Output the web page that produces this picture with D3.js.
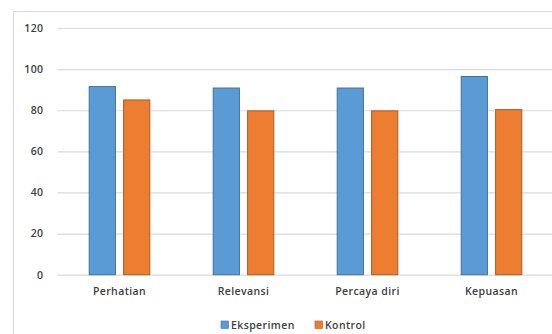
<!DOCTYPE html>
<html>
<head>
<meta charset="utf-8">
<script src="https://cdn.jsdelivr.net/npm/d3@7"></script>
<style>
  html, body { margin: 0; padding: 0; background: #fff; }
  svg { display: block; }
  text { font-family: "Open Sans", "DejaVu Sans", sans-serif; fill: #404040; }
</style>
</head>
<body>
<svg id="chart" width="552" height="334"></svg>
<script>
// Categories and series values
const categories = ["Perhatian", "Relevansi", "Percaya diri", "Kepuasan"];
const eksperimen = [91.5, 90.8, 90.8, 96.4];
const kontrol = [85.0, 79.7, 79.7, 80.3];
const seriesNames = ["Eksperimen", "Kontrol"];
const yTicks = [0, 20, 40, 60, 80, 100, 120];

const colors = { Eksperimen: "#5B9BD5", Kontrol: "#ED7D31" };
const strokes = { Eksperimen: "#41719C", Kontrol: "#AE5A21" };

const svg = d3.select("#chart");

// Outer chart frame (top and left edges visible)
svg.append("rect")
  .attr("x", 13.5).attr("y", 11.5)
  .attr("width", 600).attr("height", 400)
  .attr("fill", "none").attr("stroke", "#D9D9D9");

const plot = { left: 57.5, right: 553.5, top: 28, bottom: 274.7 };

const x = d3.scaleBand().domain(categories).range([plot.left, plot.right]).paddingInner(0).paddingOuter(0);
const y = d3.scaleLinear().domain([0, 120]).range([plot.bottom, plot.top]);

// Gridlines and value labels
const yAxis = d3.axisLeft(y).tickValues(yTicks).tickSize(-(plot.right - plot.left)).tickPadding(14);
const gy = svg.append("g").attr("transform", `translate(${plot.left},0)`).call(yAxis);
gy.select(".domain").remove();
gy.selectAll(".tick line").attr("stroke", "#D9D9D9").attr("stroke-width", 1.2);
gy.selectAll(".tick text")
  .style("font-size", "10.5px").style("font-weight", "600")
  .attr("fill", "#404040").attr("letter-spacing", "0.4px");

// Category axis labels
const gx = svg.append("g").attr("transform", `translate(0,${plot.bottom})`)
  .call(d3.axisBottom(x).tickSize(0).tickPadding(13));
gx.select(".domain").remove();
gx.selectAll(".tick text")
  .style("font-size", "10.5px").style("font-weight", "600")
  .attr("fill", "#404040").attr("letter-spacing", "0.4px");

// Bars
const data = categories.map((c, i) => ({ cat: c, values: [
  { key: "Eksperimen", v: eksperimen[i] },
  { key: "Kontrol", v: kontrol[i] }
]}));

const barW = 27.2, gap = 7.2;
const groupW = barW * 2 + gap;
const xs = d3.scaleOrdinal().domain(seriesNames).range([0, barW + gap]);

const groups = svg.append("g").selectAll("g").data(data).join("g")
  .attr("transform", d => `translate(${x(d.cat) + (x.bandwidth() - groupW) / 2},0)`);

groups.selectAll("rect").data(d => d.values).join("rect")
  .attr("x", d => xs(d.key) + 0.5)
  .attr("y", d => y(d.v))
  .attr("width", barW - 1)
  .attr("height", d => y(0) - y(d.v))
  .attr("fill", d => colors[d.key])
  .attr("stroke", d => strokes[d.key])
  .attr("stroke-width", 1);

// Legend
const legend = svg.append("g").attr("transform", "translate(221,321)");
const legX = [0, 94];
seriesNames.forEach((s, i) => {
  const g = legend.append("g").attr("transform", `translate(${legX[i]},0)`);
  g.append("rect").attr("width", 7.5).attr("height", 7.5)
    .attr("fill", colors[s]).attr("stroke", strokes[s]).attr("stroke-width", 0.6);
  g.append("text").attr("x", 10).attr("y", 4).attr("dy", "0.35em")
    .style("font-size", "10.5px").style("font-weight", "600")
    .attr("letter-spacing", "0.4px").text(s);
});
</script>
</body>
</html>
